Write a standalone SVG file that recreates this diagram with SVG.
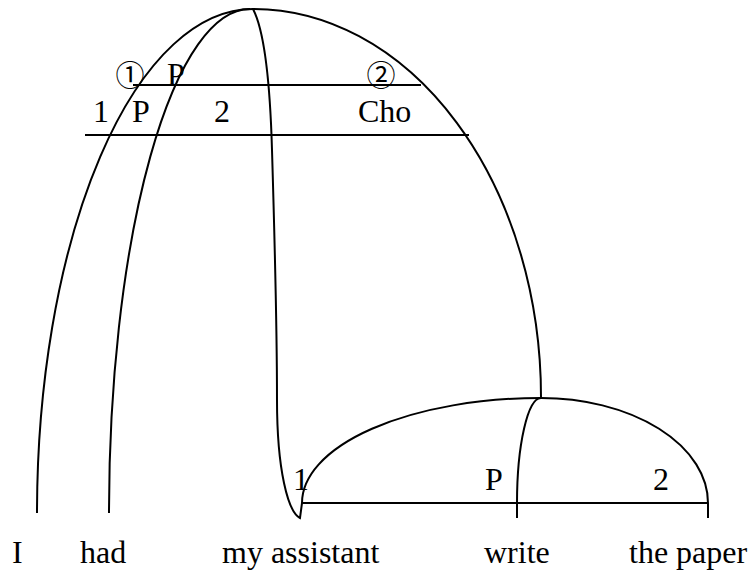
<svg xmlns="http://www.w3.org/2000/svg" width="754" height="573" viewBox="0 0 754 573">
<style>
.ln{fill:none;stroke:#000;stroke-width:2}
.t{font-family:"Liberation Serif","Times New Roman",serif;font-size:32px;fill:#000}
.c{font-family:"Noto Sans CJK JP","Noto Sans CJK SC",sans-serif;font-size:29px;fill:#000;text-anchor:middle}
</style>
<rect width="754" height="573" fill="#fff"/>
<g id="connectors">
<path class="ln" d="M37,513 A216,504 0 0 1 253,9 A288,388 0 0 1 541,397"/>
<path class="ln" d="M109,513 A141,504 0 0 1 250,9"/>
<path class="ln" d="M253,9 C264,30 270,80 272,150 C275,250 277,330 277,400 C277,470 288,512 300,518 L302,503"/>
<path class="ln" d="M302,503 A239,105 0 0 1 541,398 A167,105 0 0 1 708,503 L708,518"/>
<path class="ln" d="M541,398 A24,105 0 0 0 517,503 L517,518"/>
<line class="ln" x1="133" y1="85" x2="421" y2="85"/>
<line class="ln" x1="85" y1="135" x2="469" y2="135"/>
<line class="ln" x1="302" y1="503" x2="708" y2="503"/>
</g>
<g id="upper-labels">
<text class="c" x="130" y="86">①</text>
<text class="t" x="167" y="85">P</text>
<text class="c" x="381" y="86">②</text>
<text class="t" x="93" y="122">1</text>
<text class="t" x="132" y="122">P</text>
<text class="t" x="214" y="122">2</text>
<text class="t" x="358" y="122">Cho</text>
</g>
<g id="lower-labels">
<text class="t" x="293" y="490">1</text>
<text class="t" x="485" y="490">P</text>
<text class="t" x="653" y="490">2</text>
</g>
<g id="node-I"><text class="t" x="12" y="563">I</text></g>
<g id="node-had"><text class="t" x="80" y="563">had</text></g>
<g id="node-my-assistant"><text class="t" x="222" y="563">my assistant</text></g>
<g id="node-write"><text class="t" x="484" y="563">write</text></g>
<g id="node-the-paper"><text class="t" x="629" y="563">the paper</text></g>
</svg>
